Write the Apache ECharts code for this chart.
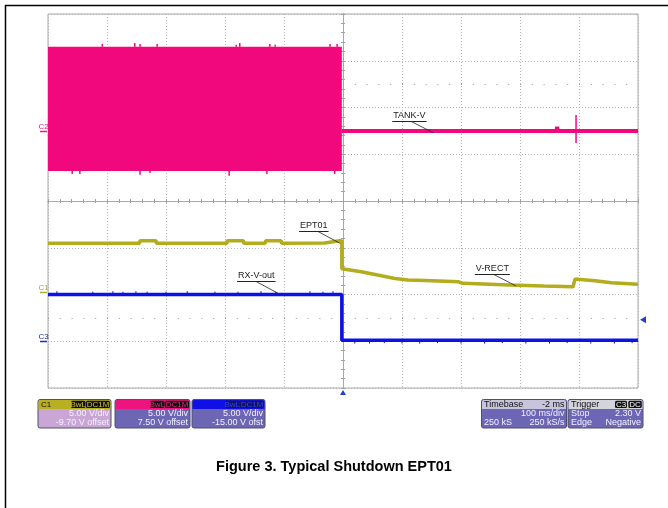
<!DOCTYPE html>
<html><head><meta charset="utf-8">
<script src="https://cdn.jsdelivr.net/npm/echarts@6/dist/echarts.min.js"></script>
<style>html,body{margin:0;padding:0;background:#fff}#c{width:668px;height:508px}</style>
</head><body><div id="c"></div>
<script>
// ---------------- DATA ----------------
const timeMin = -500, timeMax = 500, timeStep = 100;      // ms (100 ms/div)
const divMin = -4, divMax = 4;                             // vertical divisions
const voltsPerDiv = 5.0;
const chNames  = ['C1', 'C2', 'C3'];
const chOffset = [-9.70, 7.50, -15.00];                    // V offset per channel
const chColor  = ['#b3ac1d', '#f0087c', '#0c12e2'];
const chLabelColor = ['#b0aa30', '#e0207f', '#2030a0'];
const dotRowsDiv = [2.5, -2.5];

// C2 (TANK-V): burst envelope before shutdown, then quiet trace
const c2BurstTime = [-500, -2];
const c2BurstHigh = [9.0, 9.0];
const c2BurstLow  = [-4.3, -4.3];
const c2Time = [-2, 362, 363, 364, 500];
const c2Volt = [0, 0, 0.45, 0, 0];
const c2SpikeTime = [395, -408, -353, -344, -315, -181, -175, -124, -115, -22, -10, -459, -446, -344, -327, -193, -129, -14];
const c2SpikeFrom = [-1.3, 9.0, 9.0, 9.0, 9.0, 9.0, 9.0, 9.0, 9.0, 9.0, 9.0, -4.3, -4.3, -4.3, -4.3, -4.3, -4.3, -4.3];
const c2SpikeTo   = [1.7, 9.3, 9.4, 9.3, 9.3, 9.2, 9.4, 9.3, 9.2, 9.3, 9.3, -4.6, -4.6, -4.7, -4.5, -4.8, -4.6, -4.6];

// C1 (EPT01 / V-RECT)
const c1Time = [-500, -345, -344, -317, -316, -197, -196, -169, -168, -132, -131, -105, -104, -31, -6, -2, -2, 31, 67, 88, 110, 139, 196, 203, 283, 340, 390, 393, 398, 427, 455, 500];
const c1Volt = [5.17, 5.17, 5.45, 5.45, 5.17, 5.17, 5.45, 5.45, 5.17, 5.17, 5.45, 5.45, 5.17, 5.2, 5.45, 5.45, 2.45, 2.13, 1.67, 1.42, 1.24, 1.21, 1.06, 0.89, 0.71, 0.6, 0.53, 1.32, 1.32, 1.17, 0.95, 0.8];

// C3 (RX-V-out)
const c3Time = [-500, -2, -2, 500];
const c3Volt = [5.0, 5.0, 0.1, 0.1];
const c3SpikeTime = [-485, -424, -390, -373, -351, -332, -300, -264, -217, -178, -139, -114, -56, -34, -17, 20, 45, 70, 100, 130, 160, 200, 240, 270, 310, 350, 380, 420, 460, 490];
const c3SpikeFrom = [5.0, 5.0, 5.0, 5.0, 5.0, 5.0, 5.0, 5.0, 5.0, 5.0, 5.0, 5.0, 5.0, 5.0, 5.0, 0.1, 0.1, 0.1, 0.1, 0.1, 0.1, 0.1, 0.1, 0.1, 0.1, 0.1, 0.1, 0.1, 0.1, 0.1];
const c3SpikeTo   = [5.35, 5.3, 5.35, 5.3, 5.35, 5.3, 5.3, 5.35, 5.3, 5.3, 5.35, 5.3, 5.35, 5.3, 5.35, -0.25, -0.25, -0.2, -0.25, -0.25, -0.2, -0.25, -0.25, -0.2, -0.25, -0.25, -0.2, -0.25, -0.25, -0.2];

const triggerLevel = 2.30;   // V on C3
const triggerTime = 0;

// Annotations
const noteLabel   = ['TANK-V', 'EPT01', 'V-RECT', 'RX-V-out'];
const noteChannel = [1, 0, 0, 2];
const noteTime    = [153, -5, 293, -110];
const noteVolt    = [-0.2, 5.17, 0.62, 5.12];

const title = 'Figure 3. Typical Shutdown EPT01';

// ---------------- CHART ----------------
const FONT = "'Liberation Sans', Arial, sans-serif";
const NARROW = "'Liberation Sans Narrow', 'Liberation Sans', Arial, sans-serif";
const toDiv = (v, ch) => (v + chOffset[ch]) / voltsPerDiv;
const pts = (ts, vs, ch) => ts.map((t, i) => [t, toDiv(vs[i], ch)]);
const segs = (ts, a, b, ch) => {
  const out = [];
  ts.forEach((t, i) => { out.push([t, toDiv(a[i], ch)], [t, toDiv(b[i], ch)], '-'); });
  return out;
};

const chart = echarts.init(document.getElementById('c'), null, {renderer: 'canvas', width: 668, height: 508});
const gridCol = '#b4b4b4';
const baseX = {type: 'value', min: timeMin, max: timeMax, interval: timeStep, axisLabel: {show: false}, splitLine: {show: false}};
const baseY = {type: 'value', min: divMin, max: divMax, interval: 1, axisLabel: {show: false}, splitLine: {show: false}};
const centerTick = {axisLine: {show: true, onZero: true, lineStyle: {color: '#a8a8a8', width: 1}},
  axisTick: {show: true, inside: false, length: 2, lineStyle: {color: '#a0a0a0'}},
  minorTick: {show: true, splitNumber: 5, length: 2, lineStyle: {color: '#a0a0a0'}}};

const burstData = c2BurstTime.map((t, i) => [t, toDiv(c2BurstLow[i], 1), toDiv(c2BurstHigh[i], 1)]);

const option = {
  backgroundColor: '#fff',
  animation: false,
  grid: {left: 48, right: 30, top: 14, bottom: 120, show: true, borderColor: '#a8a8a8', borderWidth: 1, backgroundColor: '#fff', outerBoundsMode: 'none', containLabel: false},
  xAxis: [
    Object.assign({}, baseX, {position: 'bottom', axisLine: {show: false, onZero: false}, axisTick: {show: false},
      splitLine: {show: true, lineStyle: {color: gridCol, type: [1, 2], width: 1}}}),
    Object.assign({}, baseX, {position: 'bottom'}, centerTick),
    Object.assign({}, baseX, {position: 'top'}, centerTick)
  ],
  yAxis: [
    Object.assign({}, baseY, {position: 'left', axisLine: {show: false, onZero: false}, axisTick: {show: false},
      splitLine: {show: true, lineStyle: {color: gridCol, type: [1, 2], width: 1}}}),
    Object.assign({}, baseY, {position: 'left'}, centerTick),
    Object.assign({}, baseY, {position: 'right'}, centerTick)
  ],
  series: [
    {type: 'line', name: 'dot rows', data: [], z: 1, silent: true,
      markLine: {silent: true, z: 1, symbol: ['none', 'none'], label: {show: false},
        lineStyle: {color: '#9a9a9a', type: [1, 10.8], width: 1},
        data: dotRowsDiv.map(d => ({yAxis: d}))}},
    {type: 'custom', name: 'C2 burst', data: burstData, silent: true, z: 3,
      renderItem: function (params, api) {
        const i = params.dataIndex;
        if (i >= burstData.length - 1) return null;
        const n = burstData[i + 1];
        const pts4 = [api.coord([api.value(0), api.value(1)]), api.coord([n[0], n[1]]),
                      api.coord([n[0], n[2]]), api.coord([api.value(0), api.value(2)])];
        return {type: 'polygon', shape: {points: pts4}, style: {fill: chColor[1], stroke: null}};
      }},
    {type: 'line', name: 'C2', data: pts(c2Time, c2Volt, 1), symbol: 'none', lineStyle: {width: 4, color: chColor[1]}, z: 3},
    {type: 'line', name: 'C2 spikes', data: segs(c2SpikeTime, c2SpikeFrom, c2SpikeTo, 1), symbol: 'none', connectNulls: false,
      lineStyle: {width: 1.5, color: chColor[1]}, z: 3},
    {type: 'line', name: 'C1', data: pts(c1Time, c1Volt, 0), symbol: 'none', lineStyle: {width: 3.5, color: chColor[0]}, z: 4},
    {type: 'line', name: 'C3', data: pts(c3Time, c3Volt, 2), symbol: 'none', lineStyle: {width: 3.5, color: chColor[2]}, z: 5},
    {type: 'line', name: 'C3 spikes', data: segs(c3SpikeTime, c3SpikeFrom, c3SpikeTo, 2), symbol: 'none', connectNulls: false,
      lineStyle: {width: 1, color: chColor[2]}, z: 5}
  ]
};
chart.setOption(option);

// ---------------- GRAPHICS (annotations, panels) ----------------
const P = (t, d) => chart.convertToPixel({xAxisIndex: 0, yAxisIndex: 0}, [t, d]);
const cv = document.createElement('canvas').getContext('2d');
const tw = (s, font) => { cv.font = font; return cv.measureText(s).width; };
const G = [];
const text = (x, y, s, fill, size, align, vAlign, family, weight) => G.push({type: 'text', x: x, y: y, silent: true, z: 100,
  style: {text: s, fill: fill, fontSize: size, fontFamily: family || FONT, fontWeight: weight || 'normal',
    align: align || 'left', verticalAlign: vAlign || 'middle', textAlign: align || 'left', textVerticalAlign: vAlign || 'middle'}});
const line = (x1, y1, x2, y2, stroke, w) => G.push({type: 'line', silent: true, z: 100, shape: {x1, y1, x2, y2}, style: {stroke, lineWidth: w || 1}});
const rect = (x, y, w, h, fill, r, stroke) => G.push({type: 'rect', silent: true, z: 100, shape: {x, y, width: w, height: h, r: r || 0},
  style: {fill, stroke: stroke || null, lineWidth: stroke ? 1 : 0}});

// frame
line(5, 5.5, 668, 5.5, '#000', 1.5);
line(5.5, 5, 5.5, 508, '#000', 1.5);

// annotations
noteLabel.forEach((s, i) => {
  const a = P(noteTime[i], toDiv(noteVolt[i], noteChannel[i]));
  const f = "9px 'Liberation Sans'";
  const w = tw(s, f);
  const left = a[0] - 40, uy = Math.round(a[1] - 12) + 0.5;
  text(left, uy - 1.5, s, '#222', 9, 'left', 'bottom');
  line(left - 1, uy, left + w + 1, uy, '#222', 1);
  line(a[0] - 22, uy, a[0], a[1], '#222', 0.8);
});

// channel ground markers
chNames.forEach((n, i) => {
  const y = Math.round(P(timeMin, toDiv(0, i))[1]) + 0.5;
  text(43.5, y - 5, n, chLabelColor[i], 8, 'center', 'middle', NARROW);
  line(40, y, 47, y, chLabelColor[i], 1.5);
});

// trigger markers
const tp = P(triggerTime, divMin);
G.push({type: 'polygon', silent: true, z: 100, shape: {points: [[tp[0] - 3, tp[1] + 7], [tp[0] + 3, tp[1] + 7], [tp[0], tp[1] + 2]]}, style: {fill: '#2040d0'}});
const lp = P(timeMax, toDiv(triggerLevel, 2));
G.push({type: 'polygon', silent: true, z: 100, shape: {points: [[lp[0] + 2, lp[1]], [lp[0] + 8, lp[1] - 3.5], [lp[0] + 8, lp[1] + 3.5]]}, style: {fill: '#2040d0'}});

// info panels
const BY = 399.5, BH = 28.5, HH = 9;
const r1 = BY + 14, r2 = BY + 23;
function panel(x, w, headCol, bodyCol) {
  rect(x, BY, w, BH, bodyCol, 2, '#50506a');
  rect(x + 0.5, BY + 0.5, w - 1, HH, headCol, [2, 2, 0, 0]);
}
function badge(x, w, s, bg, fg) {
  rect(x, BY + 1.2, w, HH - 1.6, bg, 1.5);
  text(x + w / 2, BY + 5, s, fg, 8, 'center', 'middle', NARROW);
}
const chBoxX = [38, 115, 192], chBoxW = [73, 75, 73];
const chBody = ['#c9a6d6', '#6d66b4', '#6d66b4'];
const chHead = ['#b8b020', '#ee1480', '#1010e6'];
const badgeBg = ['#111', '#111', '#14145a'];
const badgeFg = ['#c8c030', '#f0207f', '#3040ff'];
const offsetWord = ['offset', 'offset', 'ofst'];
chNames.forEach((n, i) => {
  const x = chBoxX[i], w = chBoxW[i], R = x + w;
  panel(x, w, chHead[i], chBody[i]);
  text(x + 3, BY + 5, n, i === 0 ? '#111' : chHead[i], 8, 'left', 'middle', NARROW);
  badge(R - 40, 14.5, 'BwL', badgeBg[i], badgeFg[i]);
  badge(R - 25, 24, 'DC1M', badgeBg[i], badgeFg[i]);
  text(R - 2, r1, voltsPerDiv.toFixed(2) + ' V/div', '#f4f0ff', 9, 'right', 'middle', NARROW);
  text(R - 2, r2, chOffset[i].toFixed(2) + ' V ' + offsetWord[i], '#f4f0ff', 9, 'right', 'middle', NARROW);
});
// timebase
panel(481.5, 85, '#c8c4dc', '#6d66b4');
text(484, BY + 5, 'Timebase', '#111', 9, 'left', 'middle', NARROW);
text(564.5, BY + 5, '-2 ms', '#111', 9, 'right', 'middle', NARROW);
text(564.5, r1, timeStep + ' ms/div', '#f4f0ff', 9, 'right', 'middle', NARROW);
text(484, r2, '250 kS', '#f4f0ff', 9, 'left', 'middle', NARROW);
text(564.5, r2, '250 kS/s', '#f4f0ff', 9, 'right', 'middle', NARROW);
// trigger
panel(568, 75, '#d4d4dc', '#6d66b4');
text(571, BY + 5, 'Trigger', '#111', 9, 'left', 'middle', NARROW);
badge(615, 12, 'C3', '#111', '#fff');
badge(628.3, 13.5, 'DC', '#111', '#fff');
text(571, r1, 'Stop', '#f4f0ff', 9, 'left', 'middle', NARROW);
text(641, r1, triggerLevel.toFixed(2) + ' V', '#f4f0ff', 9, 'right', 'middle', NARROW);
text(571, r2, 'Edge', '#f4f0ff', 9, 'left', 'middle', NARROW);
text(641, r2, 'Negative', '#f4f0ff', 9, 'right', 'middle', NARROW);

// title
text(334, 467, title, '#000', 14.5, 'center', 'middle', FONT, 'bold');

chart.setOption({graphic: {elements: G}});
</script></body></html>
